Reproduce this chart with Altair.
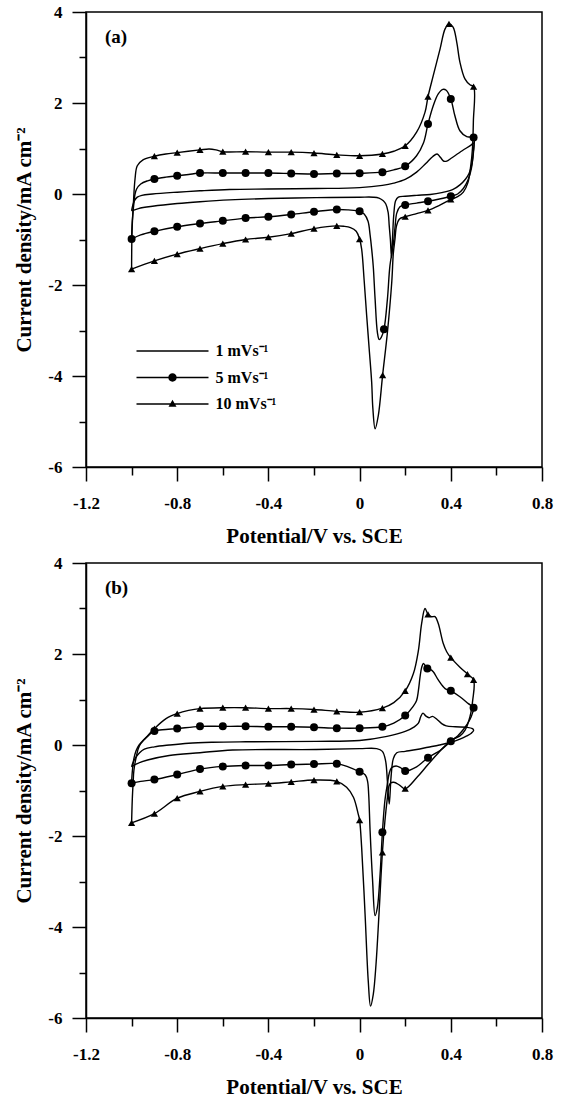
import altair as alt
import pandas as pd

FONT = "Liberation Serif"
RATES = ["1 mVs⁻¹", "5 mVs⁻¹", "10 mVs⁻¹"]
X_MAJOR = [-1.2, -0.8, -0.4, 0.0, 0.4, 0.8]
X_MINOR = [-1.0, -0.6, -0.2, 0.2, 0.6]
Y_MAJOR = [-6, -4, -2, 0, 2, 4]
Y_MINOR = [-5, -3, -1, 1, 3]
PANEL_TAGS = ["(a)", "(b)"]
X_TITLE = "Potential/V vs. SCE"
Y_TITLE = "Current density/mA cm⁻²"

# ---------------- panel (a) ----------------
A1_X = [-1.0, -0.995, -0.988, -0.975, -0.955, -0.908, -0.8, -0.7, -0.571, -0.4, -0.19, 0.0, 0.1, 0.15, 0.2,
        0.25, 0.29, 0.32, 0.34, 0.355, 0.37, 0.385, 0.40, 0.45, 0.49, 0.5,
        0.497, 0.49, 0.48, 0.465, 0.44, 0.41, 0.36, 0.31, 0.25, 0.2, 0.17, 0.158, 0.15, 0.145, 0.14,
        0.135, 0.13, 0.125, 0.115, 0.104, 0.085, 0.06, 0.0, -0.19, -0.4, -0.571, -0.7, -0.8, -0.908, -0.97, -1.0]
A1_Y = [-0.37, -0.25, -0.15, -0.07, -0.03, 0.0, 0.04, 0.07, 0.1, 0.11, 0.12, 0.14, 0.19, 0.24, 0.32,
        0.48, 0.67, 0.82, 0.88, 0.8, 0.72, 0.73, 0.78, 0.95, 1.08, 1.12,
        0.8, 0.6, 0.45, 0.33, 0.2, 0.1, 0.03, -0.01, -0.03, -0.05, -0.07, -0.15, -0.45, -0.9, -1.4,
        -1.0, -0.7, -0.4, -0.22, -0.15, -0.09, -0.07, -0.07, -0.08, -0.1, -0.13, -0.17, -0.21, -0.27, -0.32, -0.37]

A5_X = [-1.0, -0.997, -0.99, -0.985, -0.978, -0.96, -0.93, -0.9, -0.85, -0.8, -0.75, -0.7, -0.6, -0.5, -0.4,
        -0.3, -0.2, -0.1, 0.0, 0.1, 0.15, 0.2, 0.25, 0.28, 0.3, 0.323, 0.345, 0.365, 0.38, 0.4, 0.418, 0.44,
        0.47, 0.5,
        0.498, 0.49, 0.475, 0.455, 0.43, 0.4, 0.35, 0.3, 0.25, 0.2, 0.177, 0.163, 0.155, 0.148, 0.133, 0.122,
        0.107, 0.095, 0.086, 0.078, 0.068, 0.06, 0.053, 0.046, 0.037, 0.02, 0.0, -0.05, -0.1, -0.2, -0.3,
        -0.4, -0.5, -0.6, -0.7, -0.8, -0.9, -0.96, -1.0]
A5_Y = [-0.99, -0.6, -0.2, 0.0, 0.11, 0.22, 0.29, 0.33, 0.37, 0.40, 0.43, 0.46, 0.46, 0.46, 0.46,
        0.45, 0.44, 0.45, 0.455, 0.48, 0.53, 0.61, 0.84, 1.12, 1.54, 1.94, 2.2, 2.3, 2.28, 2.09, 1.72, 1.39,
        1.26, 1.24,
        0.9, 0.55, 0.3, 0.12, 0.0, -0.05, -0.11, -0.16, -0.2, -0.24, -0.28, -0.42, -0.75, -1.1, -1.58, -2.31,
        -2.97, -3.15, -3.2, -3.04, -2.31, -1.6, -1.21, -0.9, -0.6, -0.44, -0.38, -0.35, -0.34, -0.39, -0.45,
        -0.50, -0.53, -0.59, -0.65, -0.72, -0.82, -0.9, -0.99]

A10_X = [-1.0, -0.998, -0.993, -0.985, -0.975, -0.95, -0.9, -0.85, -0.8, -0.7, -0.66, -0.63, -0.6, -0.5, -0.4,
         -0.3, -0.2, -0.1, 0.0, 0.1, 0.15, 0.2, 0.25, 0.287, 0.3, 0.323, 0.353, 0.375, 0.392, 0.41, 0.426,
         0.44, 0.462, 0.484, 0.5,
         0.499, 0.495, 0.487, 0.475, 0.455, 0.43, 0.4, 0.35, 0.3, 0.25, 0.2, 0.175, 0.162, 0.155, 0.148,
         0.141, 0.122, 0.101, 0.082, 0.068, 0.058, 0.053, 0.042, 0.031, 0.02, 0.009, 0.0, -0.015, -0.04,
         -0.07, -0.1, -0.2, -0.3, -0.4, -0.5, -0.6, -0.7, -0.8, -0.9, -1.0]
A10_Y = [-1.65, -0.8, -0.3, 0.33, 0.62, 0.75, 0.83, 0.88, 0.91, 0.97, 0.99, 0.97, 0.93, 0.93, 0.92,
         0.92, 0.9, 0.86, 0.84, 0.88, 0.94, 1.06, 1.36, 1.8, 2.14, 2.6, 3.19, 3.63, 3.74, 3.67, 3.34,
         2.9, 2.53, 2.4, 2.36,
         1.6, 1.0, 0.6, 0.25, 0.04, -0.06, -0.12, -0.25, -0.36, -0.43, -0.5, -0.55, -0.7, -1.0, -1.3,
         -1.94, -3.04, -3.98, -4.87, -5.16, -4.7, -4.14, -3.4, -2.67, -1.9, -1.21, -0.99, -0.82, -0.74,
         -0.71, -0.70, -0.76, -0.87, -0.95, -1.0, -1.09, -1.2, -1.32, -1.47, -1.65]

A5_MX = [-0.9, -0.8, -0.7, -0.6, -0.5, -0.4, -0.3, -0.2, -0.1, 0.0, 0.1, 0.2, 0.3, 0.4, 0.5,
         0.4, 0.3, 0.2, 0.107, 0.0, -0.1, -0.2, -0.3, -0.4, -0.5, -0.6, -0.7, -0.8, -0.9, -1.0]
A5_MY = [0.33, 0.40, 0.46, 0.46, 0.46, 0.46, 0.45, 0.44, 0.45, 0.455, 0.48, 0.61, 1.54, 2.09, 1.24,
         -0.05, -0.16, -0.24, -2.97, -0.38, -0.34, -0.39, -0.45, -0.50, -0.53, -0.59, -0.65, -0.72, -0.82, -0.99]
A10_MX = [-0.9, -0.8, -0.7, -0.6, -0.5, -0.4, -0.3, -0.2, -0.1, 0.0, 0.1, 0.2, 0.3, 0.392, 0.5,
          0.4, 0.3, 0.2, 0.101, 0.0, -0.1, -0.2, -0.3, -0.4, -0.5, -0.6, -0.7, -0.8, -0.9, -1.0]
A10_MY = [0.83, 0.91, 0.97, 0.93, 0.93, 0.92, 0.92, 0.9, 0.86, 0.84, 0.88, 1.06, 2.14, 3.74, 2.36,
          -0.12, -0.36, -0.5, -3.98, -0.99, -0.70, -0.76, -0.87, -0.95, -1.0, -1.09, -1.2, -1.32, -1.47, -1.65]

# ---------------- panel (b) ----------------
B1_X = [-1.0, -0.995, -0.985, -0.965, -0.944, -0.9, -0.835, -0.75, -0.644, -0.5, -0.19, 0.0, 0.12, 0.2,
        0.24, 0.258, 0.268, 0.278, 0.29, 0.305, 0.32, 0.34, 0.36, 0.38, 0.42, 0.47, 0.495, 0.5,
        0.49, 0.47, 0.44, 0.4, 0.35, 0.3, 0.25, 0.2, 0.163, 0.148, 0.138, 0.13, 0.122, 0.114, 0.1, 0.075,
        0.0, -0.19, -0.557, -0.7, -0.835, -0.93, -0.98, -1.0]
B1_Y = [-0.48, -0.4, -0.3, -0.17, -0.09, -0.04, 0.0, 0.04, 0.06, 0.07, 0.08, 0.1, 0.19, 0.3,
        0.4, 0.48, 0.62, 0.7, 0.64, 0.6, 0.63, 0.56, 0.47, 0.42, 0.4, 0.39, 0.36, 0.32,
        0.26, 0.2, 0.13, 0.06, 0.0, -0.05, -0.1, -0.14, -0.17, -0.3, -0.7, -1.3, -0.8, -0.35, -0.14, -0.08,
        -0.08, -0.1, -0.11, -0.17, -0.23, -0.33, -0.42, -0.48]

B5_X = [-1.0, -0.998, -0.995, -0.99, -0.98, -0.967, -0.95, -0.93, -0.9, -0.85, -0.8, -0.7, -0.6, -0.5,
        -0.4, -0.3, -0.2, -0.1, 0.0, 0.1, 0.15, 0.2, 0.235, 0.25, 0.258, 0.265, 0.272, 0.28, 0.297, 0.31,
        0.323, 0.345, 0.375, 0.4, 0.44, 0.477, 0.5,
        0.495, 0.484, 0.455, 0.43, 0.4, 0.353, 0.3, 0.25, 0.2, 0.18, 0.16, 0.14, 0.13, 0.122, 0.111, 0.1,
        0.09, 0.078, 0.068, 0.057, 0.046, 0.04, 0.035, 0.025, 0.0, -0.05, -0.1, -0.2, -0.3, -0.4, -0.5,
        -0.6, -0.7, -0.8, -0.9, -0.96, -1.0]
B5_Y = [-0.84, -0.65, -0.49, -0.3, -0.12, 0.0, 0.1, 0.19, 0.31, 0.34, 0.36, 0.41, 0.41, 0.41,
        0.40, 0.40, 0.39, 0.37, 0.37, 0.40, 0.48, 0.65, 0.85, 0.98, 1.2, 1.49, 1.7, 1.79, 1.68, 1.66,
        1.61, 1.43, 1.24, 1.19, 1.06, 0.91, 0.82,
        0.7, 0.56, 0.34, 0.2, 0.08, -0.12, -0.28, -0.48, -0.57, -0.5, -0.46, -0.5, -0.62, -0.85, -1.22, -1.92,
        -2.83, -3.57, -3.75, -2.98, -1.88, -1.1, -0.8, -0.66, -0.59, -0.48, -0.41, -0.42, -0.43, -0.45, -0.45,
        -0.47, -0.53, -0.65, -0.76, -0.8, -0.84]

B10_X = [-1.0, -0.997, -0.993, -0.99, -0.98, -0.966, -0.937, -0.9, -0.849, -0.8, -0.75, -0.7, -0.6, -0.5,
         -0.4, -0.3, -0.2, -0.1, 0.0, 0.1, 0.15, 0.2, 0.236, 0.258, 0.272, 0.287, 0.3, 0.315, 0.331, 0.345,
         0.367, 0.382, 0.4, 0.44, 0.473, 0.5,
         0.496, 0.484, 0.462, 0.44, 0.4, 0.35, 0.3, 0.25, 0.2, 0.175, 0.15, 0.135, 0.128, 0.122, 0.111, 0.1,
         0.085, 0.072, 0.06, 0.048, 0.038, 0.024, 0.009, 0.0, -0.006, -0.027, -0.057, -0.1, -0.2, -0.3,
         -0.4, -0.5, -0.6, -0.7, -0.8, -0.9, -1.0]
B10_Y = [-1.71, -1.2, -0.8, -0.56, -0.27, -0.02, 0.16, 0.36, 0.58, 0.69, 0.76, 0.80, 0.82, 0.82,
         0.80, 0.80, 0.78, 0.74, 0.72, 0.81, 0.93, 1.19, 1.57, 2.08, 2.67, 3.0, 2.87, 2.82, 2.82, 2.67,
         2.23, 2.05, 1.92, 1.71, 1.56, 1.43,
         0.98, 0.62, 0.32, 0.2, 0.1, -0.15, -0.43, -0.72, -0.96, -0.88, -0.82, -0.84, -0.92, -1.15, -1.67,
         -2.36, -3.72, -4.82, -5.48, -5.74, -5.19, -3.72, -2.25, -1.65, -1.52, -1.15, -0.93, -0.8, -0.77,
         -0.81, -0.85, -0.87, -0.91, -1.02, -1.17, -1.51, -1.71]

B5_MX = [-0.9, -0.8, -0.7, -0.6, -0.5, -0.4, -0.3, -0.2, -0.1, 0.0, 0.1, 0.2, 0.297, 0.4, 0.5,
         0.4, 0.3, 0.2, 0.1, 0.0, -0.1, -0.2, -0.3, -0.4, -0.5, -0.6, -0.7, -0.8, -0.9, -1.0]
B5_MY = [0.31, 0.36, 0.41, 0.41, 0.41, 0.40, 0.40, 0.39, 0.37, 0.37, 0.40, 0.65, 1.68, 1.19, 0.82,
         0.08, -0.28, -0.57, -1.92, -0.59, -0.41, -0.42, -0.43, -0.45, -0.45, -0.47, -0.53, -0.65, -0.76, -0.84]
B10_MX = [-0.9, -0.8, -0.7, -0.6, -0.5, -0.4, -0.3, -0.2, -0.1, 0.0, 0.1, 0.2, 0.3, 0.4, 0.473, 0.5,
          0.4, 0.2, 0.1, 0.0, -0.1, -0.2, -0.3, -0.4, -0.5, -0.6, -0.7, -0.8, -0.9, -1.0]
B10_MY = [0.36, 0.69, 0.80, 0.82, 0.82, 0.80, 0.80, 0.78, 0.74, 0.72, 0.81, 1.19, 2.87, 1.92, 1.56, 1.43,
          0.1, -0.96, -2.36, -1.65, -0.8, -0.77, -0.81, -0.85, -0.87, -0.91, -1.02, -1.17, -1.51, -1.71]

# legend symbols (filled paths): line only / line + circle / line + triangle
LEGEND_SYMBOLS = [
    "M-3.6,-0.07L3.6,-0.07L3.6,0.07L-3.6,0.07Z",
    "M-3.6,-0.07L3.6,-0.07L3.6,0.07L-3.6,0.07Z M-0.42,0A0.42,0.42,0,1,1,0.42,0A0.42,0.42,0,1,1,-0.42,0Z",
    "M-3.6,-0.07L3.6,-0.07L3.6,0.07L-3.6,0.07Z M0,-0.42L0.4,0.27L-0.4,0.27Z",
]

x_scale = alt.Scale(domain=[-1.2, 0.8], nice=False, zero=False)
y_scale = alt.Scale(domain=[-6, 4], nice=False, zero=False)

LABEL_STYLE = dict(labelFont=FONT, labelFontSize=17, labelFontWeight="bold", labelColor="black",
                   labelFlush=False, labelOverlap=False)
TITLE_STYLE = dict(titleFont=FONT, titleFontSize=21, titleFontWeight="bold", titleColor="black")

x_major = alt.Axis(
    orient="bottom", values=X_MAJOR, title=X_TITLE, grid=False, tickSize=14, tickWidth=1.5,
    tickColor="black", domainColor="black", domainWidth=1.5,
    labelExpr="(datum.value < -0.001 ? '-' : '') + (abs(datum.value) < 0.001 ? '0' : format(abs(datum.value), '.1f'))",
    labelPadding=14, titlePadding=13, minExtent=45, maxExtent=45, **LABEL_STYLE, **TITLE_STYLE,
)
x_minor = alt.Axis(
    orient="bottom", values=X_MINOR, title=None, grid=False, tickSize=8, tickWidth=1.5,
    tickColor="black", domain=False, labels=False, minExtent=0, maxExtent=0,
)
y_major = alt.Axis(
    orient="left", values=Y_MAJOR, title=Y_TITLE, grid=False, tickSize=14, tickWidth=1.5,
    tickColor="black", domainColor="black", domainWidth=1.5,
    labelExpr="(datum.value < 0 ? '-' : '') + abs(datum.value)",
    labelPadding=10, titlePadding=14, minExtent=38, maxExtent=38, **LABEL_STYLE, **TITLE_STYLE,
)
y_minor = alt.Axis(
    orient="left", values=Y_MINOR, title=None, grid=False, tickSize=7, tickWidth=1.5,
    tickColor="black", domain=False, labels=False, minExtent=0, maxExtent=0,
)


def curves_df(items):
    frames = []
    for xs, ys, rate in items:
        frames.append(pd.DataFrame({"x": xs, "y": ys, "rate": rate, "i": list(range(len(xs)))}))
    return pd.concat(frames, ignore_index=True)


def panel(c1, c5, c10, m5, m10, tag):
    lines = alt.Chart(curves_df([(c1[0], c1[1], RATES[0]), (c5[0], c5[1], RATES[1]),
                                 (c10[0], c10[1], RATES[2])])).mark_line(
        color="black", strokeWidth=1.4, interpolate="catmull-rom"
    ).encode(
        x=alt.X("x:Q", scale=x_scale, axis=x_major),
        y=alt.Y("y:Q", scale=y_scale, axis=y_major),
        detail="rate:N",
        order=alt.Order("i:Q"),
    )
    circles = alt.Chart(pd.DataFrame({"x": m5[0], "y": m5[1]})).mark_point(
        shape="circle", filled=True, color="black", size=64, opacity=1
    ).encode(x=alt.X("x:Q", scale=x_scale, axis=x_minor), y=alt.Y("y:Q", scale=y_scale, axis=y_minor))
    triangles = alt.Chart(pd.DataFrame({"x": m10[0], "y": m10[1]})).mark_point(
        shape="triangle-up", filled=True, color="black", size=52, opacity=1
    ).encode(x=alt.X("x:Q", scale=x_scale, axis=None), y=alt.Y("y:Q", scale=y_scale, axis=None))
    legend_layer = alt.Chart(pd.DataFrame({"rate": RATES})).mark_point(
        filled=True, color="black", opacity=0
    ).encode(
        shape=alt.Shape(
            "rate:N",
            scale=alt.Scale(domain=RATES, range=LEGEND_SYMBOLS),
            legend=alt.Legend(
                title=None, orient="none", legendX=76.5, legendY=329, padding=0,
                rowPadding=8.5, labelOffset=33, symbolSize=400, symbolStrokeWidth=0,
                symbolFillColor="black", symbolOpacity=1,
                labelFont=FONT, labelFontSize=16, labelFontWeight="bold", labelColor="black",
            ),
        )
    )
    label = alt.Chart(pd.DataFrame({"t": [tag]})).mark_text(
        align="left", baseline="middle", font=FONT, fontSize=19, fontWeight="bold", color="black"
    ).encode(
        x=alt.XDatum(-1.117, scale=x_scale, axis=None),
        y=alt.YDatum(3.45, scale=y_scale, axis=None),
        text="t:N",
    )
    return alt.layer(lines, circles, triangles, legend_layer, label).resolve_axis(
        x="independent", y="independent"
    ).properties(width=456, height=455)


pa = panel((A1_X, A1_Y), (A5_X, A5_Y), (A10_X, A10_Y), (A5_MX, A5_MY), (A10_MX, A10_MY), PANEL_TAGS[0])
pb = panel((B1_X, B1_Y), (B5_X, B5_Y), (B10_X, B10_Y), (B5_MX, B5_MY), (B10_MX, B10_MY), PANEL_TAGS[1])

chart = alt.vconcat(pa, pb, spacing=6).properties(
    padding={"left": 12, "top": 2, "right": 5, "bottom": 0},
    background="white",
).configure_view(
    stroke="black", strokeWidth=1.5
)

chart.save("out.html", embed_options={"renderer": "svg", "actions": False})
